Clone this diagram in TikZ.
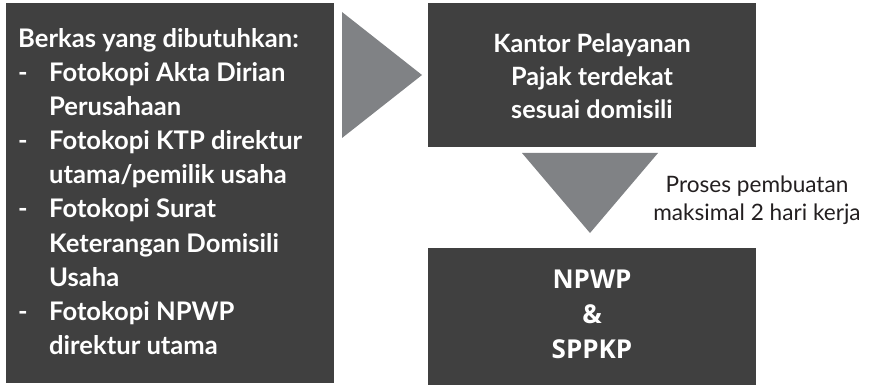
\documentclass[tikz,border=0pt]{standalone}
\usepackage{fontspec}
\setmainfont{Lato}
\newfontfamily\osans{Open Sans}
\definecolor{boxgray}{HTML}{404040}
\definecolor{trigray}{HTML}{808285}
\definecolor{txtdark}{HTML}{231F20}
\begin{document}
\begin{tikzpicture}[x=1pt,y=-1pt,
  box/.style={fill=boxgray, draw=none, rectangle, inner sep=0pt},
  tri/.style={fill=trigray, draw=none},
  lefttxt/.style={text=white, font=\fontsize{25.6}{30}\selectfont\bfseries, anchor=base west, inner sep=0pt},
  midtxt/.style={text=white, font=\fontsize{25.2}{30}\selectfont\bfseries, anchor=base, inner sep=0pt},
  bigtxt/.style={text=white, font=\osans\fontsize{26}{30}\selectfont\bfseries, anchor=base, inner sep=0pt},
  note/.style={text=txtdark, font=\fontsize{22.6}{26}\selectfont, anchor=base, inner sep=0pt}]
\useasboundingbox (0,0) rectangle (874,387);
% boxes
\node[box, minimum width=328pt, minimum height=380pt] (left) at (170,193) {};
\node[box, minimum width=328pt, minimum height=144pt] (kpp) at (592,75) {};
\node[box, minimum width=328pt, minimum height=137pt] (npwp) at (592,316.5) {};
% arrows (triangles)
\coordinate (rtA) at (342,12);
\coordinate (rtB) at (342,138);
\coordinate (rtTip) at (422,75);
\fill[tri] (rtA) -- (rtTip) -- (rtB) -- cycle;
\coordinate (dnA) at (522,153);
\coordinate (dnB) at (658,153);
\coordinate (dnTip) at (590,233);
\fill[tri] (dnA) -- (dnB) -- (dnTip) -- cycle;
% left text
\node[lefttxt] (l1) at (18,48) {Berkas yang dibutuhkan:};
\node[lefttxt] (d1) at (18,82) {-};
\node[lefttxt] (l2) at (49,82) {Fotokopi Akta Dirian};
\node[lefttxt] (l3) at (49,116) {Perusahaan};
\node[lefttxt] (d2) at (18,150) {-};
\node[lefttxt] (l4) at (49,150) {Fotokopi KTP direktur};
\node[lefttxt] (l5) at (49,184) {utama/pemilik usaha};
\node[lefttxt] (d3) at (18,218) {-};
\node[lefttxt] (l6) at (49,218) {Fotokopi Surat};
\node[lefttxt] (l7) at (49,252) {Keterangan Domisili};
\node[lefttxt] (l8) at (49,286) {Usaha};
\node[lefttxt] (d4) at (18,320) {-};
\node[lefttxt] (l9) at (49,320) {Fotokopi NPWP};
\node[lefttxt] (l10) at (49,354) {direktur utama};
% top-right text
\node[midtxt] (k1) at (592,53) {Kantor Pelayanan};
\node[midtxt] (k2) at (592,86) {Pajak terdekat};
\node[midtxt] (k3) at (592,119) {sesuai domisili};
% bottom-right text
\node[bigtxt] (n1) at (592,288) {NPWP};
\node[bigtxt] (n2) at (592,323) {\&};
\node[bigtxt] (n3) at (592,358) {SPPKP};
% note
\node[note] (p1) at (757,193) {Proses pembuatan};
\node[note] (p2) at (757,221) {maksimal 2 hari kerja};
\end{tikzpicture}
\end{document}
